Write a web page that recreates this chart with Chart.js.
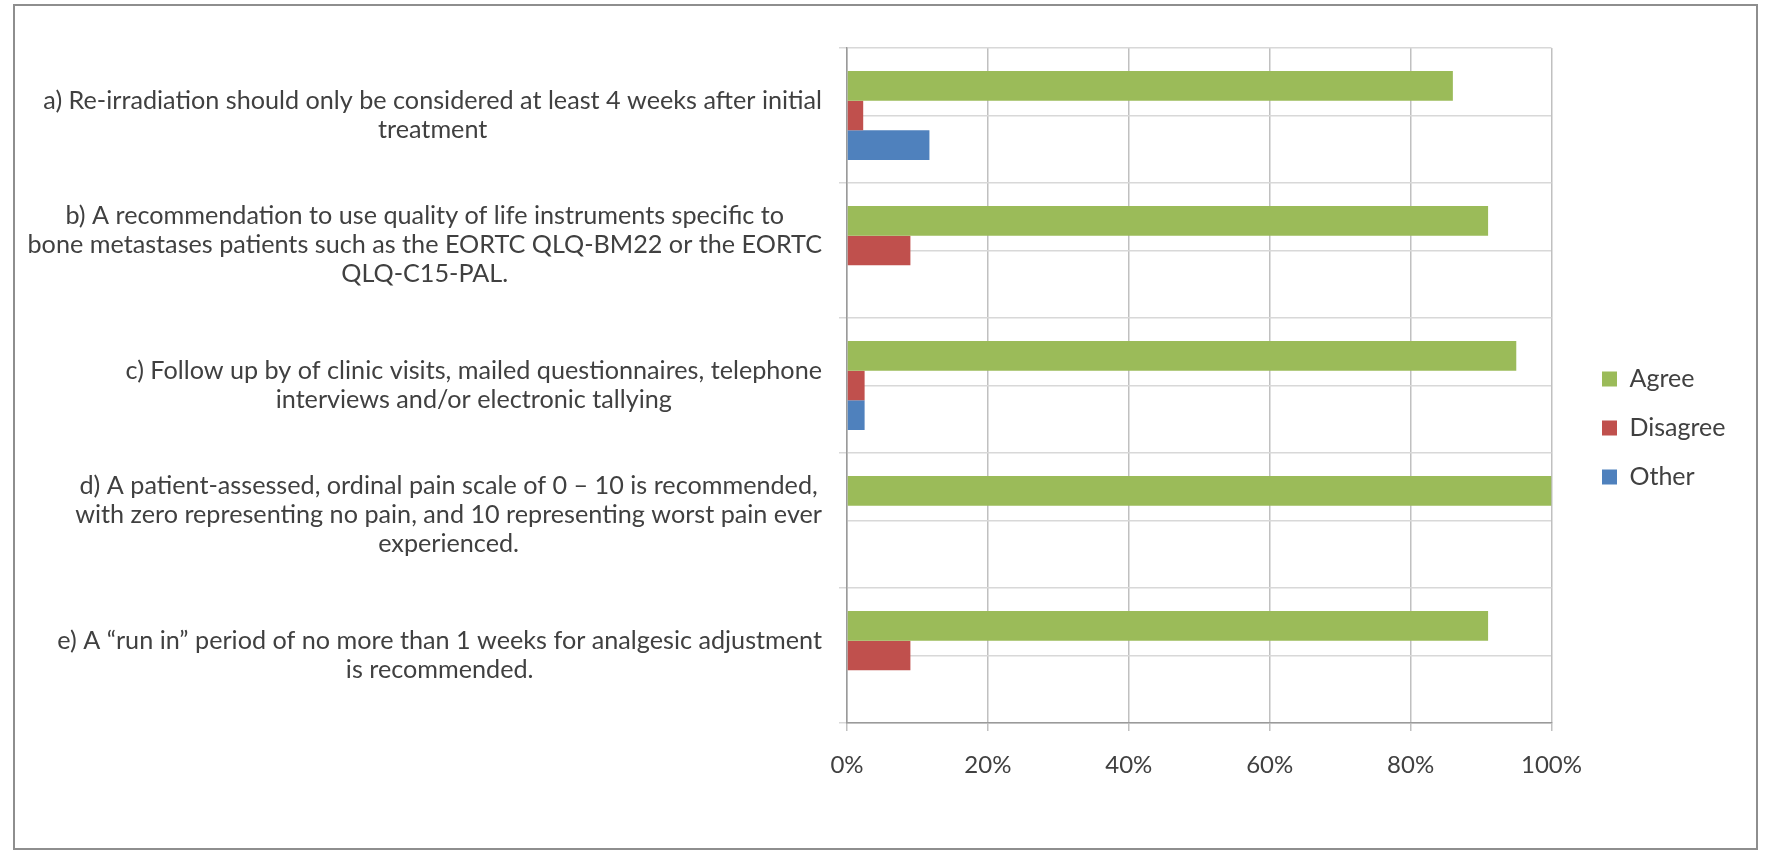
<!DOCTYPE html>
<html><head><meta charset="utf-8">
<script src="https://cdn.jsdelivr.net/npm/chart.js@4.4.1/dist/chart.umd.min.js"></script>
<style>
html,body{margin:0;padding:0;background:#fff;}
#frame{position:absolute;left:13px;top:4px;width:1745px;height:846px;border:2px solid #8e8e8e;box-sizing:border-box;background:#fff;}
#wrap{position:absolute;left:0;top:0;right:0;bottom:0;}
</style></head><body>
<div id="frame"><div id="wrap"><canvas id="c"></canvas></div></div>
<script>
// ---- data ----
const categories = [
  ["a) Re-irradiation should only be considered at least 4 weeks after initial", "treatment"],
  ["b) A recommendation to use quality of life instruments specific to", "bone metastases patients such as the EORTC QLQ-BM22 or the EORTC", "QLQ-C15-PAL."],
  ["c) Follow up by of clinic visits, mailed questionnaires, telephone", "interviews and/or electronic tallying"],
  ["d) A patient-assessed, ordinal pain scale of 0 \u2013 10 is recommended,", "with zero representing no pain, and 10 representing worst pain ever", "experienced."],
  ["e) A \u201crun in\u201d period of no more than 1 weeks for analgesic adjustment", "is recommended."]
];
const seriesNames = ["Agree", "Disagree", "Other"];
const agree    = [86, 91, 95, 100, 91];
const disagree = [2.3, 9, 2.5, 0, 9];
const other    = [11.7, 0, 2.5, 0, 0];
const xTicks   = [0, 20, 40, 60, 80, 100];

// ---- style ----
const FONT = "Lato";
const FS_LABEL = 25.2;
const FS_LEGEND = 25;
const FS_TICK = 24;
const LINE_H = 29;
const TEXT = "#404040";
const colors = ["#9BBB59", "#C0504D", "#4F81BD"];

const catLabelPlugin = {
  id: "catLabels",
  afterDraw(chart) {
    const s = chart.scales.y;
    const ctx = chart.ctx;
    ctx.save();
    ctx.font = FS_LABEL + "px " + FONT;
    ctx.fillStyle = TEXT;
    ctx.textBaseline = "middle";
    ctx.textAlign = "center";
    categories.forEach((lines, i) => {
      const w = Math.max(...lines.map(l => ctx.measureText(l).width));
      const right = chart.chartArea.left - 25;
      const cx = right - w / 2;
      const cy = s.getPixelForValue(i) - (lines.length > 2 ? 6 : 0);
      const top = cy - (lines.length - 1) * LINE_H / 2;
      lines.forEach((l, k) => ctx.fillText(l, cx, top + k * LINE_H));
    });
    ctx.restore();
  }
};

const series = [agree, disagree, other];
new Chart(document.getElementById("c"), {
  type: "bar",
  data: {
    labels: categories.map(l => l.join(" ")),
    datasets: series.map((d, i) => ({
      label: seriesNames[i],
      data: d,
      backgroundColor: colors[i],
      borderWidth: 0,
      categoryPercentage: 0.66,
      barPercentage: 1.0
    }))
  },
  options: {
    indexAxis: "y",
    responsive: true,
    maintainAspectRatio: false,
    animation: false,
    layout: { padding: { left: 0, right: 20.5, top: 42, bottom: 40 } },
    plugins: {
      tooltip: { enabled: false },
      legend: {
        position: "right",
        align: "center",
        labels: {
          boxWidth: 15, boxHeight: 15, padding: 24,
          color: TEXT, font: { family: FONT, size: FS_LEGEND, lineHeight: 1.2 }
        }
      }
    },
    scales: {
      x: {
        type: "linear", position: "bottom", min: 0, max: 100,
        afterBuildTicks: s => { s.ticks = xTicks.map(v => ({ value: v })); },
        grid: { color: "#c0c0c0", lineWidth: 1.5, tickLength: 8, drawTicks: true },
        border: { display: true, color: "#9a9a9a", width: 1.5 },
        ticks: { padding: 20, color: TEXT, font: { family: FONT, size: FS_TICK }, callback: v => v + "%" },
        afterFit: s => { s.height = 85; }
      },
      y: {
        type: "category", position: "left", offset: true,
        grid: { offset: true, color: "#d8d8d8", lineWidth: 1.5, tickLength: 8, drawTicks: true },
        border: { display: true, color: "#9a9a9a", width: 1.5 },
        ticks: { display: false },
        afterFit: s => { s.width = 832; }
      },
      yMid: {
        type: "category", position: "right", offset: true,
        grid: { offset: false, color: "#d8d8d8", lineWidth: 1.5, drawTicks: false },
        border: { display: false },
        ticks: { display: false },
        afterFit: s => { s.width = 26.5; }
      }
    }
  },
  plugins: [catLabelPlugin]
});
</script>
</body></html>
